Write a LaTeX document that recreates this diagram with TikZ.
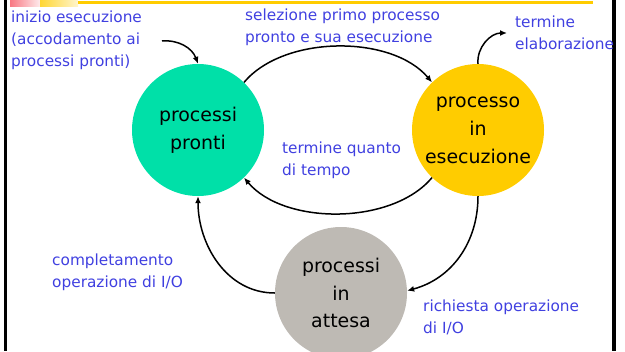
\documentclass[tikz,border=0pt]{standalone}
\usepackage{fontspec}
\setmainfont{DejaVu Sans}
\usepackage{tikz}
\usetikzlibrary{arrows.meta}
\definecolor{verdepronti}{RGB}{0,224,168}
\definecolor{gialloesec}{RGB}{255,204,0}
\definecolor{grigioattesa}{RGB}{190,186,180}
\definecolor{blulabel}{RGB}{64,64,224}
\definecolor{rosatesta}{RGB}{248,120,130}

\begin{document}
\begin{tikzpicture}[x=1bp,y=1bp,>={Latex[length=7bp,width=6bp]}]

\useasboundingbox (0,0) rectangle (625,351);

\tikzset{Stato/.style={circle,minimum size=132bp,inner sep=0pt,align=center,font=\fontsize{19}{28}\selectfont}}
\tikzset{Etichetta/.style={anchor=west,inner sep=0pt,align=left,text=blulabel,font=\fontsize{15.4}{22}\selectfont}}
\tikzset{Freccia/.style={->,line width=1.5bp}}

\fill[black] (4,0) rectangle (7,351);
\fill[black] (612,0) rectangle (615.5,351);
\shade[left color=rosatesta,right color=rosatesta!15] (10,344.5) rectangle (40,351);
\shade[left color=gialloesec!80,right color=gialloesec!20] (40,344.5) rectangle (78,351);
\fill[gialloesec] (78,346.5) rectangle (593,349.5);

\node[Stato,fill=verdepronti] (pronti) at (198,221) {processi\\pronti};
\node[Stato,fill=gialloesec] (esec) at (478,221) {processo\\in\\esecuzione};
\node[Stato,fill=grigioattesa] (attesa) at (341,58) {processi\\in\\attesa};

\node[Etichetta] (inizio) at (11,311) {inizio esecuzione\\(accodamento ai\\processi pronti)};
\node[Etichetta] (selezione) at (245,324) {selezione primo processo\\pronto e sua esecuzione};
\node[Etichetta] (termine) at (515,318) {termine\\elaborazione};
\node[Etichetta] (quanto) at (282,191) {termine quanto\\di tempo};
\node[Etichetta] (completamento) at (52,79) {completamento\\operazione di I/O};
\node[Etichetta] (richiesta) at (423,34) {richiesta operazione\\di I/O};

\coordinate (ingresso) at (162,310);
\coordinate (uscita) at (507,318);

\draw[Freccia] (ingresso) to[out=5,in=110] (pronti.north);
\draw[Freccia] (pronti.46) to[out=50,in=130,looseness=0.85] (esec.134);
\draw[Freccia] (esec.226) to[out=-130,in=-50,looseness=0.85] (pronti.-46);
\draw[Freccia] (esec.north) to[out=95,in=180] (uscita);
\draw[Freccia] (esec.south) to[out=-90,in=15] (attesa.2);
\draw[Freccia] (attesa.west) to[out=180,in=-90] (pronti.south);

\end{tikzpicture}
\end{document}
